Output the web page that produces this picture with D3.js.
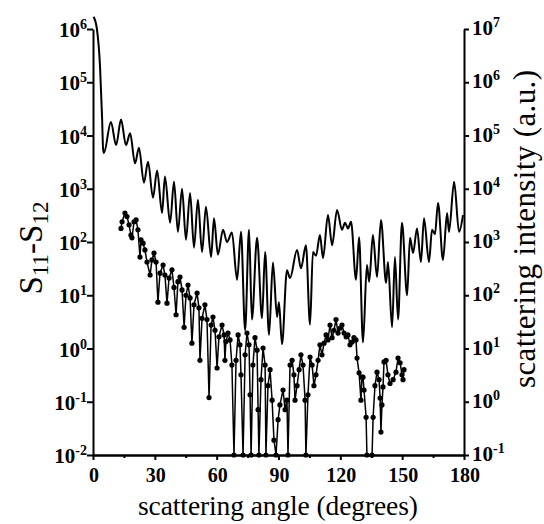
<!DOCTYPE html>
<html>
<head>
<meta charset="utf-8">
<script src="https://cdn.jsdelivr.net/npm/d3@7"></script>
<style>
  body { margin: 0; background: #fff; }
  text { font-family: "Liberation Serif", "Times New Roman", serif; fill: #000; }
  .tick-lbl { font-size: 21px; font-weight: bold; }
  .title { font-size: 27.5px; }
</style>
</head>
<body>
<svg id="chart" width="544" height="524"></svg>
<script>
/*==========================================
 data
===========================================*/

// theory curve, scattering intensity (a.u.), right axis
var theoryAngle = [0.3, 1.9, 3.4, 4.4, 4.9, 5.3, 8.7, 11.2, 13.6, 16.0, 18.0, 20.4, 22.3, 24.7, 26.7, 29.1,
    31.1, 33.5, 34.9, 37.4, 39.3, 41.2, 43.2, 45.1, 47.1, 49.0, 50.9, 52.9, 54.8, 57.3, 58.7, 60.6,
    63.1, 65.0, 67.4, 69.9, 71.8, 73.8, 75.7, 77.1, 79.6, 82.0, 83.5, 85.4, 87.3, 89.3, 90.2, 91.7,
    94.1, 95.6, 99.0, 100.9, 103.3, 105.3, 106.7, 108.2, 110.1, 111.6, 114.0, 116.0, 118.4, 120.8,
    122.3, 123.7, 125.2, 127.6, 129.1, 131.0, 132.9, 134.0, 135.8, 137.8, 139.7, 142.2, 143.1, 145.1,
    146.5, 148.0, 149.9, 152.4, 153.8, 155.3, 157.2, 159.1, 160.6, 163.0, 164.5, 165.9, 167.4, 169.8,
    171.8, 172.7, 175.2, 177.6, 179.5];
var theoryIntensity = [1.7e7, 1.0e7, 2.0e6, 2.2e5, 5.6e4, 4.7e4, 1.8e5, 6.6e4, 2.0e5, 6.6e4, 1.1e5, 3.0e4, 5.9e4, 1.3e4, 3.2e4, 6.8e3,
    2.2e4, 3.5e3, 1.7e4, 2.3e3, 1.35e4, 1.55e3, 1.0e4, 1.1e3, 8.3e3, 780, 6.2e3, 650, 4.6e3, 520, 2.8e3, 580,
    1.7e3, 1.0e3, 1.5e3, 195, 1.55e3, 22, 1.7e3, 35, 1.2e3, 37, 650, 18, 410, 39, 74, 12,
    295, 210, 710, 320, 870, 28, 650, 550, 1.35e3, 500, 3.2e3, 870, 4.0e3, 1.7e3,
    2.3e3, 1.8e3, 2.4e3, 195, 1.23e3, 13, 370, 180, 1.35e3, 220, 2.6e3, 170, 420, 25,
    520, 35, 2.3e3, 100, 1.2e3, 620, 1.8e3, 420, 2.8e3, 420, 1.7e3, 1.4e3, 5.4e3, 460,
    3.5e3, 1.55e3, 1.35e4, 1.55e3, 3.2e3];

// measured S11-S12, left axis (points below 1e-2 sit on the bottom axis)
var measAngle = [13.6, 14.1, 15.5, 16.5, 17.5, 18.4, 18.9, 19.9, 20.9, 21.8, 22.8, 23.3, 24.3, 25.2, 26.2, 27.7,
    28.6, 29.6, 30.6, 31.5, 32.5, 34.0, 34.9, 35.9, 36.9, 38.3, 39.3, 40.3, 41.2, 42.2, 43.2, 44.2,
    45.1, 46.1, 47.1, 48.0, 49.0, 50.5, 51.4, 51.9, 52.9, 54.3, 55.3, 56.3, 57.3, 58.2, 59.2, 60.2,
    61.1, 62.6, 63.6, 64.0, 64.5, 65.5, 66.5, 67.4, 68.4, 69.4, 70.4, 71.3, 71.8, 72.8, 73.8, 74.7,
    75.7, 76.2, 76.7, 77.6, 78.6, 79.6, 80.1, 80.5, 81.5, 82.5, 83.5, 83.9, 84.9, 85.9, 86.9, 87.8,
    88.8, 89.8, 90.7, 92.2, 93.2, 94.1, 94.6, 95.6, 96.6, 97.5, 98.0, 99.0, 100.0, 100.9, 101.9, 102.9,
    103.3, 104.3, 105.3, 106.3, 107.2, 108.2, 109.2, 110.1, 111.1, 112.1, 113.1, 114.0, 115.0, 116.0,
    116.9, 117.9, 118.9, 119.8, 120.8, 121.8, 122.8, 123.7, 124.7, 125.7, 126.6, 127.6, 128.1, 129.1,
    130.0, 130.5, 131.0, 131.5, 132.5, 132.9, 135.4, 135.9, 136.8, 137.8, 138.8, 139.3, 139.7, 140.2,
    140.7, 141.2, 142.2, 143.1, 144.1, 145.6, 147.0, 148.0, 149.0, 149.9, 150.4, 150.9];
var measS = [180, 240, 350, 300, 210, 135, 120, 240, 260, 170, 52, 110, 95, 71, 42, 24,
    46, 62, 42, 7.4, 26, 37, 24, 7.1, 21, 30, 14, 4.3, 18, 22, 12.6, 2.5,
    10, 15.5, 8.9, 1.26, 6.6, 11, 5.8, 0.60, 3.7, 6.6, 3.5, 0.12, 2.75, 3.9, 2.2, 0.43,
    1.66, 2.75, 1.8, 0.60, 1.35, 1.95, 1.45, 0.49, 0.01, 0.60, 1.8, 1.17, 0.32, 0.01, 0.76, 1.95,
    1.17, 0.135, 0.01, 0.49, 1.6, 0.93, 0.071, 0.01, 0.26, 1.02, 0.49, 0.01, 0.20, 0.40, 0.107, 0.019,
    0.01, 0.046, 0.087, 0.166, 0.071, 0.107, 0.01, 0.49, 0.60, 0.32, 0.107, 0.20, 0.40, 0.76, 0.49, 0.107,
    0.01, 0.135, 0.69, 0.49, 0.20, 0.32, 0.60, 1.17, 0.76, 1.26, 1.8, 1.45, 2.75, 1.6,
    2.2, 3.5, 1.95, 2.4, 2.75, 1.95, 1.66, 1.8, 1.17, 1.32, 1.6, 1.45, 0.66, 0.35,
    0.107, 0.29, 0.29, 0.166, 0.051, 0.01, 0.01, 0.051, 0.20, 0.36, 0.26, 0.117, 0.027, 0.087,
    0.19, 0.56, 0.60, 0.32, 0.22, 0.26, 0.36, 0.66, 0.54, 0.32, 0.26, 0.40];

// axis ticks
var angleTicks = [0, 30, 60, 90, 120, 150, 180];
var angleMinor = [15, 45, 75, 105, 135, 165];
var leftExp = [-2, -1, 0, 1, 2, 3, 4, 5, 6];
var rightExp = [-1, 0, 1, 2, 3, 4, 5, 6, 7];

/*==========================================
 scales
===========================================*/
var svg = d3.select("#chart");

var x = d3.scaleLinear().domain([0, 180]).range([93, 464]);
var yLeft = d3.scaleLog().domain([1e-2, 1e6]).range([455, 29]);
var yRight = d3.scaleLog().domain([1e-1, 1e7]).range([455, 29]);

/*==========================================
 axes
===========================================*/
svg.append("g")
    .attr("transform", "translate(0,455)")
    .call(d3.axisBottom(x).tickValues(angleMinor).tickSize(3).tickSizeOuter(0).tickFormat(""));

svg.append("g")
    .attr("transform", "translate(0,455)")
    .call(d3.axisBottom(x).tickValues(angleTicks).tickSize(5).tickSizeOuter(0).tickFormat(""));

svg.append("g")
    .attr("transform", "translate(93,0)")
    .call(d3.axisLeft(yLeft).tickValues(leftExp.map(function (e) { return Math.pow(10, e); }))
        .tickSize(6).tickSizeOuter(0).tickFormat(""));

svg.append("g")
    .attr("transform", "translate(464,0)")
    .call(d3.axisRight(yRight).tickValues(rightExp.map(function (e) { return Math.pow(10, e); }))
        .tickSize(5).tickSizeOuter(0).tickFormat(""));

svg.selectAll(".domain, .tick line").attr("stroke", "#000").attr("stroke-width", 2);

// tick labels
svg.selectAll(".xlbl").data(angleTicks).enter().append("text")
    .attr("class", "tick-lbl")
    .style("font-size", "20px")
    .attr("x", function (d) { return x(d) + 1; })
    .attr("y", 482)
    .attr("text-anchor", "middle")
    .text(function (d) { return d; });

function powLabel(sel) {
    sel.append("tspan").text("10");
    sel.append("tspan")
        .attr("dy", -8)
        .style("font-size", "14px")
        .text(function (d) { return d; });
}

svg.selectAll(".llbl").data(leftExp).enter().append("text")
    .attr("class", "tick-lbl")
    .attr("x", 87)
    .attr("y", function (d) { return yLeft(Math.pow(10, d)) + 8; })
    .attr("text-anchor", "end")
    .call(powLabel);

svg.selectAll(".rlbl").data(rightExp).enter().append("text")
    .attr("class", "tick-lbl")
    .attr("x", 472)
    .attr("y", function (d) { return yRight(Math.pow(10, d)) + 6; })
    .call(powLabel);

// axis titles
svg.append("text")
    .attr("class", "title")
    .attr("x", 138)
    .attr("y", 515)
    .attr("textLength", 280)
    .attr("lengthAdjust", "spacing")
    .text("scattering angle (degrees)");

var leftTitle = svg.append("text")
    .attr("class", "title")
    .style("font-size", "33px")
    .attr("transform", "translate(42,248) rotate(-90)")
    .attr("text-anchor", "middle");
leftTitle.append("tspan").text("S");
leftTitle.append("tspan").attr("dy", 6).style("font-size", "23px").text("11");
leftTitle.append("tspan").attr("dy", -6).text("-S");
leftTitle.append("tspan").attr("dy", 6).style("font-size", "23px").text("12");

svg.append("text")
    .attr("class", "title")
    .style("font-size", "31px")
    .attr("transform", "translate(535,388) rotate(-90)")
    .attr("textLength", 318)
    .attr("lengthAdjust", "spacing")
    .text("scattering intensity (a.u.)");

/*==========================================
 curves
===========================================*/
var theory = theoryAngle.map(function (a, i) { return [a, theoryIntensity[i]]; });
var meas = measAngle.map(function (a, i) { return [a, measS[i]]; });

svg.append("path")
    .datum(theory)
    .attr("fill", "none")
    .attr("stroke", "#000")
    .attr("stroke-width", 2)
    .attr("d", d3.line()
        .x(function (d) { return x(d[0]); })
        .y(function (d) { return yRight(d[1]); })
        .curve(d3.curveMonotoneX));

svg.append("path")
    .datum(meas)
    .attr("fill", "none")
    .attr("stroke", "#000")
    .attr("stroke-width", 1.5)
    .attr("d", d3.line()
        .x(function (d) { return x(d[0]); })
        .y(function (d) { return yLeft(d[1]); }));

svg.selectAll(".dot").data(meas).enter().append("circle")
    .attr("cx", function (d) { return x(d[0]); })
    .attr("cy", function (d) { return yLeft(d[1]); })
    .attr("r", 2.6)
    .attr("fill", "#000");
</script>
</body>
</html>
